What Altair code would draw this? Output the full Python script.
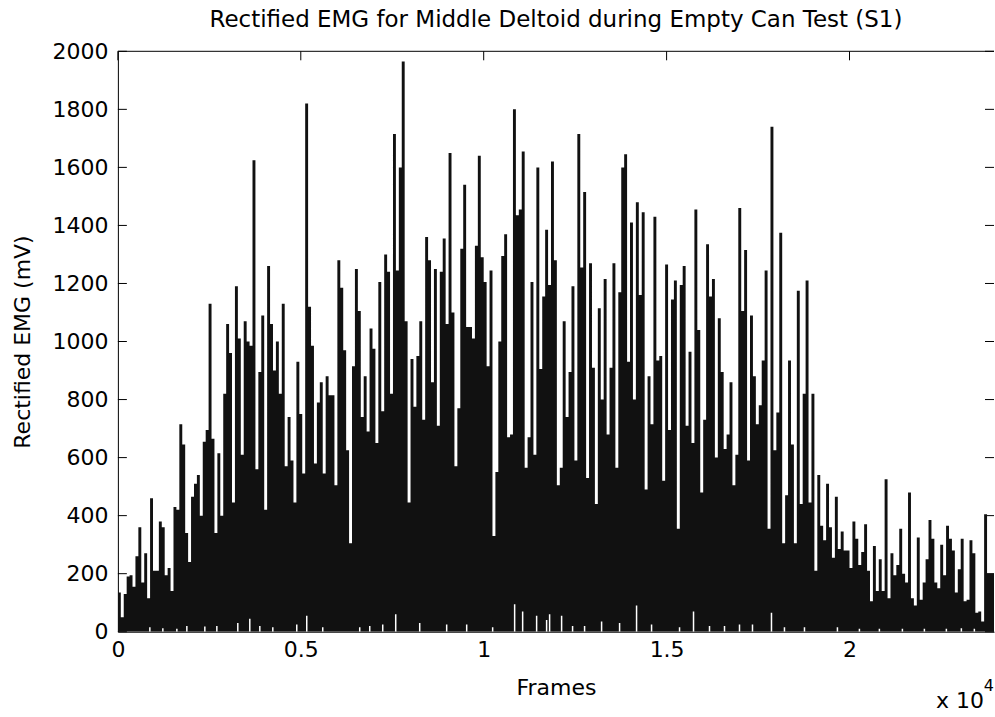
import altair as alt
import pandas as pd

# ---------------- data ----------------
BIN_FRAMES = 80  # width of one sample bin, in frames

emg_mv = [
    135, 50, 130, 190, 195, 155, 260, 360, 170, 270,
    115, 460, 210, 210, 380, 360, 195, 220, 140, 430,
    420, 715, 645, 340, 240, 465, 510, 540, 400, 655,
    695, 1130, 665, 340, 615, 400, 820, 1060, 960, 445,
    1190, 1010, 610, 1070, 1000, 985, 1625, 560, 895, 1090,
    420, 1260, 1060, 900, 1000, 820, 1130, 570, 740, 590,
    445, 930, 750, 545, 1820, 1120, 985, 580, 790, 860,
    545, 880, 815, 815, 505, 1280, 1185, 970, 625, 305,
    915, 1250, 1105, 740, 880, 690, 1045, 975, 650, 1205,
    760, 1300, 1240, 820, 1715, 1245, 1600, 1965, 1070, 445,
    940, 775, 950, 1070, 730, 1360, 1280, 860, 1250, 710,
    1240, 1355, 1060, 1650, 1100, 570, 770, 1320, 1540, 1050,
    1050, 1010, 1330, 1640, 1290, 1205, 915, 1245, 330, 550,
    1000, 1295, 1370, 670, 680, 1800, 1435, 1455, 1655, 565,
    670, 1205, 610, 1600, 905, 1155, 1385, 1195, 1620, 1280,
    505, 565, 1070, 740, 895, 1190, 590, 1715, 1255, 1515,
    530, 1270, 910, 440, 1115, 800, 1215, 680, 910, 1270,
    565, 1170, 1600, 1645, 930, 1410, 800, 1480, 1160, 1445,
    490, 880, 715, 1430, 935, 950, 520, 1265, 695, 1145,
    1210, 355, 1195, 1260, 710, 965, 650, 1455, 1040, 480,
    730, 1335, 1155, 1215, 600, 1080, 895, 630, 680, 860,
    505, 610, 1460, 1105, 1315, 590, 1090, 880, 715, 780,
    935, 1245, 355, 1740, 625, 755, 1375, 305, 470, 935,
    645, 305, 1175, 440, 820, 1210, 445, 820, 210, 540,
    365, 315, 510, 360, 255, 465, 285, 345, 280, 280,
    220, 380, 320, 230, 275, 370, 210, 105, 295, 140,
    250, 140, 525, 115, 270, 195, 230, 355, 200, 170,
    480, 115, 90, 325, 110, 170, 250, 385, 320, 170,
    150, 300, 195, 365, 320, 280, 135, 215, 320, 105,
    110, 315, 270, 65, 70, 35, 405, 200, 200, 200,
]

# near-zero dips (white specks just above the x axis)
gap_frames = [874, 1229, 1612, 1885, 2377, 2705, 3278, 3606, 3880, 4235,
              4890, 5163, 5600, 6611, 6885, 7240, 7595, 8251, 8988, 9535,
              10245, 10846, 11065, 11447, 11720, 11802, 12130, 12430, 12758, 13223,
              13715, 14179, 14589, 15354, 15736, 16173, 16583, 16993, 17348, 17867,
              18222, 18769, 19670, 20271, 20817, 21446, 22047, 22648, 23058, 23413]
gap_mv = [15, 12, 10, 20, 18, 20, 30, 45, 20, 15,
          25, 55, 15, 15, 20, 25, 60, 30, 25, 25,
          15, 95, 70, 55, 40, 60, 55, 20, 20, 35,
          30, 90, 25, 15, 70, 20, 20, 25, 25, 65,
          15, 15, 15, 10, 10, 10, 10, 10, 12, 10]

x_ticks = [0, 5000, 10000, 15000, 20000]
y_ticks = [0, 200, 400, 600, 800, 1000, 1200, 1400, 1600, 1800, 2000]

TITLE = "Rectified EMG for Middle Deltoid during Empty Can Test (S1)"
X_TITLE = "Frames"
Y_TITLE = "Rectified EMG (mV)"
EXP_BASE = "x 10"
EXP_POWER = "4"

# ---------------- tables ----------------
n = len(emg_mv)
sig = pd.DataFrame({
    "frame": [i * BIN_FRAMES for i in range(n)] + [n * BIN_FRAMES],
    "mv": emg_mv + [emg_mv[-1]],
})
gaps = pd.DataFrame({"frame": gap_frames, "mv": gap_mv})
xt = pd.DataFrame({"frame": x_ticks})
yt = pd.DataFrame({"mv": y_ticks})
one = pd.DataFrame({"base": [EXP_BASE], "power": [EXP_POWER]})

W, H = 877, 581
FONT = "DejaVu Sans"
TL = 9  # inward tick length

xscale = alt.Scale(domain=[0, 23950], nice=False, zero=False)
yscale = alt.Scale(domain=[0, 2000], nice=False)

x_axis = alt.Axis(values=x_ticks, labelExpr="'' + datum.value / 10000",
                  ticks=False, grid=False, labelPadding=8, labelFlush=False,
                  title=X_TITLE, titlePadding=17)
y_axis = alt.Axis(values=y_ticks, format="d", ticks=False, grid=False,
                  labelPadding=10, labelFlush=False, title=Y_TITLE,
                  titlePadding=17)

signal = alt.Chart(sig).mark_area(
    interpolate="step-after", color="#111111", clip=True
).encode(
    x=alt.X("frame:Q", scale=xscale, axis=x_axis),
    y=alt.Y("mv:Q", scale=yscale, axis=y_axis),
)

# inward ticks (drawn under the data, as in the original)
left_ticks = alt.Chart(yt).mark_rule(color="black", strokeWidth=1).encode(
    y=alt.Y("mv:Q", scale=yscale, axis=y_axis),
    x=alt.value(0), x2=alt.value(TL))
right_ticks = alt.Chart(yt).mark_rule(color="black", strokeWidth=1).encode(
    y=alt.Y("mv:Q", scale=yscale, axis=y_axis),
    x=alt.value(W - TL), x2=alt.value(W))
top_ticks = alt.Chart(xt).mark_rule(color="black", strokeWidth=1).encode(
    x=alt.X("frame:Q", scale=xscale, axis=x_axis),
    y=alt.value(0), y2=alt.value(TL))

dips = alt.Chart(gaps).mark_rule(color="white", strokeWidth=1.5, clip=True).encode(
    x=alt.X("frame:Q", scale=xscale, axis=x_axis),
    y=alt.Y("mv:Q", scale=yscale, axis=y_axis),
    y2=alt.datum(0),
)

top_border = alt.Chart(one).mark_rule(color="black", strokeWidth=1).encode(
    x=alt.value(0), x2=alt.value(W), y=alt.value(0))

exp_base = alt.Chart(one).mark_text(
    font=FONT, fontSize=22, align="right", baseline="alphabetic",
    color="black").encode(text="base:N", x=alt.value(W - 10), y=alt.value(H + 76))
exp_sup = alt.Chart(one).mark_text(
    font=FONT, fontSize=16, align="right", baseline="alphabetic",
    color="black").encode(text="power:N", x=alt.value(W), y=alt.value(H + 59))

chart = alt.layer(
    left_ticks, right_ticks, top_ticks, signal, dips, top_border,
    exp_base, exp_sup,
).properties(
    width=W, height=H,
    title=alt.TitleParams(TITLE, font=FONT, fontSize=23, fontWeight="normal",
                          color="black", anchor="middle", offset=8),
    padding={"left": 12, "top": 9, "right": 0, "bottom": 0},
).configure(
    background="white",
    view=alt.ViewConfig(stroke=None),
    axis=alt.AxisConfig(labelFont=FONT, labelFontSize=22, labelColor="black",
                        titleFont=FONT, titleFontSize=22, titleFontWeight="normal",
                        titleColor="black", domainColor="black", domainWidth=1),
)

chart.save("out.html", embed_options={"renderer": "svg", "actions": False})
